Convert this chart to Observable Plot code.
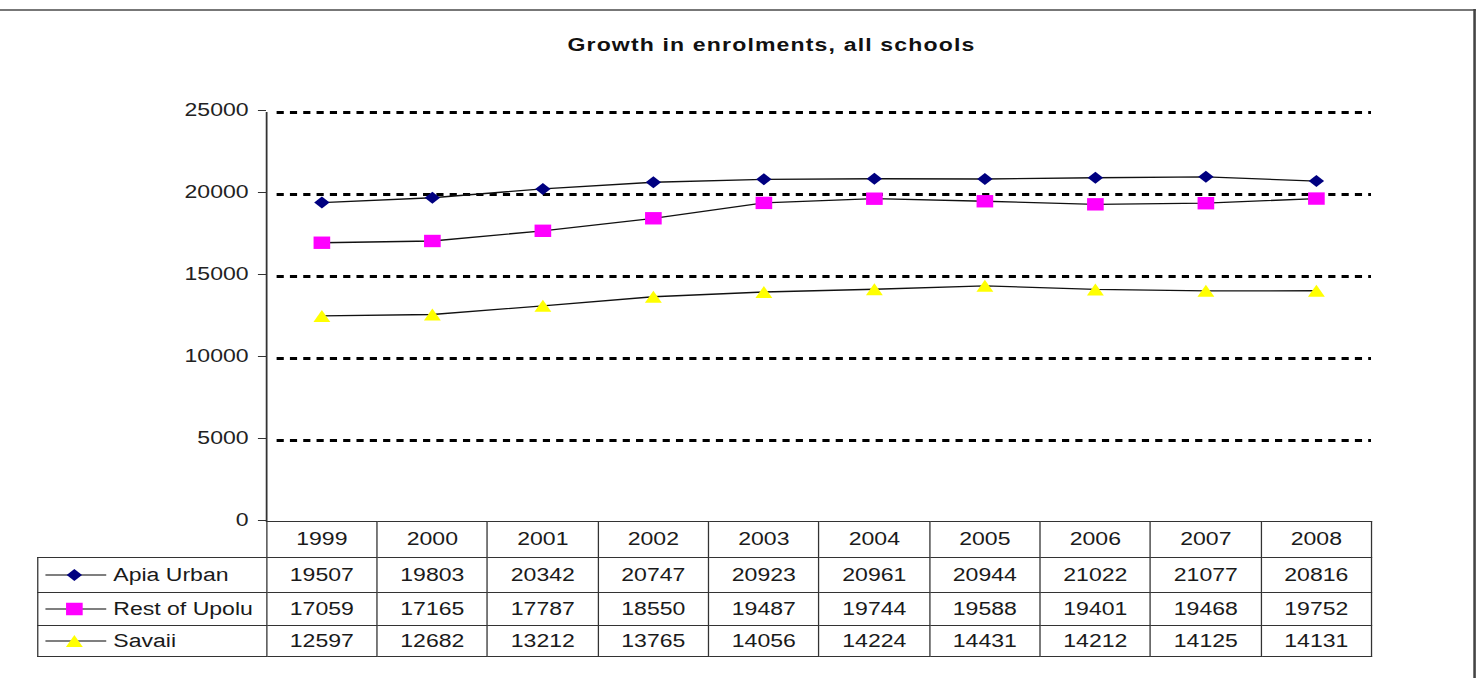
<!DOCTYPE html>
<html><head><meta charset="utf-8">
<script src="https://cdn.jsdelivr.net/npm/d3@7"></script>
<script src="https://cdn.jsdelivr.net/npm/@observablehq/plot@0.6"></script>
<style>
html,body{margin:0;padding:0;background:#fff;}
#page{position:relative;width:1481px;height:678px;overflow:hidden;background:#fff;}
#stage{position:absolute;left:0;top:0;width:1157px;height:678px;transform:scaleX(1.28);transform-origin:0 0;font-family:"Liberation Sans",Arial,sans-serif;color:#1a1a1a;}
#chart{position:absolute;left:0;top:0;}
#title{position:absolute;left:0;width:1205.4px;top:36px;text-align:center;font-weight:bold;font-size:18px;line-height:18px;letter-spacing:0.9px;color:#111;}
#topline{position:absolute;left:0;top:9px;width:1153px;height:0;border-top:2px solid #777;}
#rightline{position:absolute;left:1151.3px;top:9px;width:0;height:670px;border-left:2px solid #444;}
#tbl{position:absolute;left:28.9px;top:521.25px;border-collapse:collapse;table-layout:fixed;font-size:18px;color:#1a1a1a;}
#tbl td{border:1.5px solid #333;padding:0;text-align:center;white-space:nowrap;overflow:visible;}
#tbl td.blank{border:none;}
#tbl td.leg{text-align:left;}
.legwrap{display:flex;align-items:center;}
</style>
</head><body>
<div id="page"><div id="stage">
<div id="topline"></div>
<div id="rightline"></div>
<div id="title"></div>
<div id="chart"></div>
<table id="tbl"></table>
</div></div>
<script>
// ---- data ----
const titleText = "Growth in enrolments, all schools";
const years = [1999, 2000, 2001, 2002, 2003, 2004, 2005, 2006, 2007, 2008];
const seriesNames = ["Apia Urban", "Rest of Upolu", "Savaii"];
const apiaUrban = [19507, 19803, 20342, 20747, 20923, 20961, 20944, 21022, 21077, 20816];
const restOfUpolu = [17059, 17165, 17787, 18550, 19487, 19744, 19588, 19401, 19468, 19752];
const savaii = [12597, 12682, 13212, 13765, 14056, 14224, 14431, 14212, 14125, 14131];
const yTicks = [0, 5000, 10000, 15000, 20000, 25000];
const seriesValues = [apiaUrban, restOfUpolu, savaii];
const seriesColors = ["#000080", "#FF00FF", "#FFFF00"];

// ---- custom marker symbols ----
function poly(pts){ return {draw(ctx){ ctx.moveTo(pts[0][0], pts[0][1]); for (let i=1;i<pts.length;i++) ctx.lineTo(pts[i][0], pts[i][1]); ctx.closePath(); }}; }
const diamond = poly([[0,-6],[6,0],[0,6],[-6,0]]);
const square = poly([[-6.5,-6.2],[6.5,-6.2],[6.5,6.2],[-6.5,6.2]]);
const triangle = poly([[0,-6],[6.6,6],[-6.6,6]]);
const seriesSymbols = [diamond, square, triangle];

const rows = [];
seriesNames.forEach((s, si) => years.forEach((yr, i) => rows.push({series: s, year: yr, value: seriesValues[si][i]})));

document.getElementById("title").textContent = titleText;

const W = 1157;
const chart = Plot.plot({
  width: W, height: 540,
  marginTop: 112, marginBottom: 18, marginLeft: 207.8, marginRight: 85.9,
  x: {domain: [years[0] - 0.5, years[years.length - 1] + 0.5], axis: null},
  y: {domain: [0, 25000], axis: null},
  style: {fontFamily: "'Liberation Sans', Arial, sans-serif", fontSize: "18px", color: "#222", background: "transparent", overflow: "visible"},
  marks: [
    Plot.ruleY(yTicks.filter(d => d > 0), {stroke: "#000", strokeWidth: 3, strokeDasharray: "5.6,4.8", insetLeft: 8.3}),
    Plot.ruleX([years[0] - 0.5], {stroke: "#333", strokeWidth: 1.4}),
    Plot.axisY({ticks: yTicks, label: null, tickSize: 6.3, tickPadding: 7.8, tickFormat: d => String(d), fontSize: 18, dy: -2, stroke: "#333", fill: "#222"}),
    Plot.line(rows, {x: "year", y: "value", z: "series", stroke: "#111", strokeWidth: 1.3}),
    ...seriesNames.map((s, si) => Plot.dot(rows.filter(d => d.series === s), {x: "year", y: "value", symbol: seriesSymbols[si], fill: seriesColors[si], stroke: "none", r: 6}))
  ]
});
document.getElementById("chart").appendChild(chart);

// ---- data table below the chart ----
const tbl = document.getElementById("tbl");
const colg = document.createElement("colgroup");
const c0 = document.createElement("col"); c0.style.width = "178.9px"; colg.appendChild(c0);
years.forEach(() => { const c = document.createElement("col"); c.style.width = "86.33px"; colg.appendChild(c); });
tbl.appendChild(colg);
const rowHeights = [36, 35, 33, 31];
const hr = document.createElement("tr");
const blank = document.createElement("td"); blank.className = "blank"; hr.appendChild(blank);
years.forEach(y => { const td = document.createElement("td"); td.textContent = y; hr.appendChild(td); });
hr.style.height = rowHeights[0] + "px";
tbl.appendChild(hr);
seriesNames.forEach((s, si) => {
  const tr = document.createElement("tr");
  tr.style.height = rowHeights[si + 1] + "px";
  const lg = document.createElement("td"); lg.className = "leg";
  const wrap = document.createElement("div"); wrap.className = "legwrap";
  const p = d3.path(); seriesSymbols[si].draw(p);
  const NS = "http://www.w3.org/2000/svg";
  const sv = document.createElementNS(NS, "svg");
  sv.setAttribute("width", "58.6"); sv.setAttribute("height", "16");
  const ln = document.createElementNS(NS, "line");
  ln.setAttribute("x1", "5.5"); ln.setAttribute("x2", "53"); ln.setAttribute("y1", "8"); ln.setAttribute("y2", "8");
  ln.setAttribute("stroke", "#000"); ln.setAttribute("stroke-width", "1.2");
  const pt = document.createElementNS(NS, "path");
  pt.setAttribute("d", p.toString()); pt.setAttribute("transform", "translate(28.1,8)"); pt.setAttribute("fill", seriesColors[si]);
  sv.appendChild(ln); sv.appendChild(pt);
  const sp = document.createElement("span"); sp.textContent = s;
  wrap.appendChild(sv); wrap.appendChild(sp);
  lg.appendChild(wrap); tr.appendChild(lg);
  seriesValues[si].forEach(v => { const td = document.createElement("td"); td.textContent = v; tr.appendChild(td); });
  tbl.appendChild(tr);
});
</script>
</body></html>
